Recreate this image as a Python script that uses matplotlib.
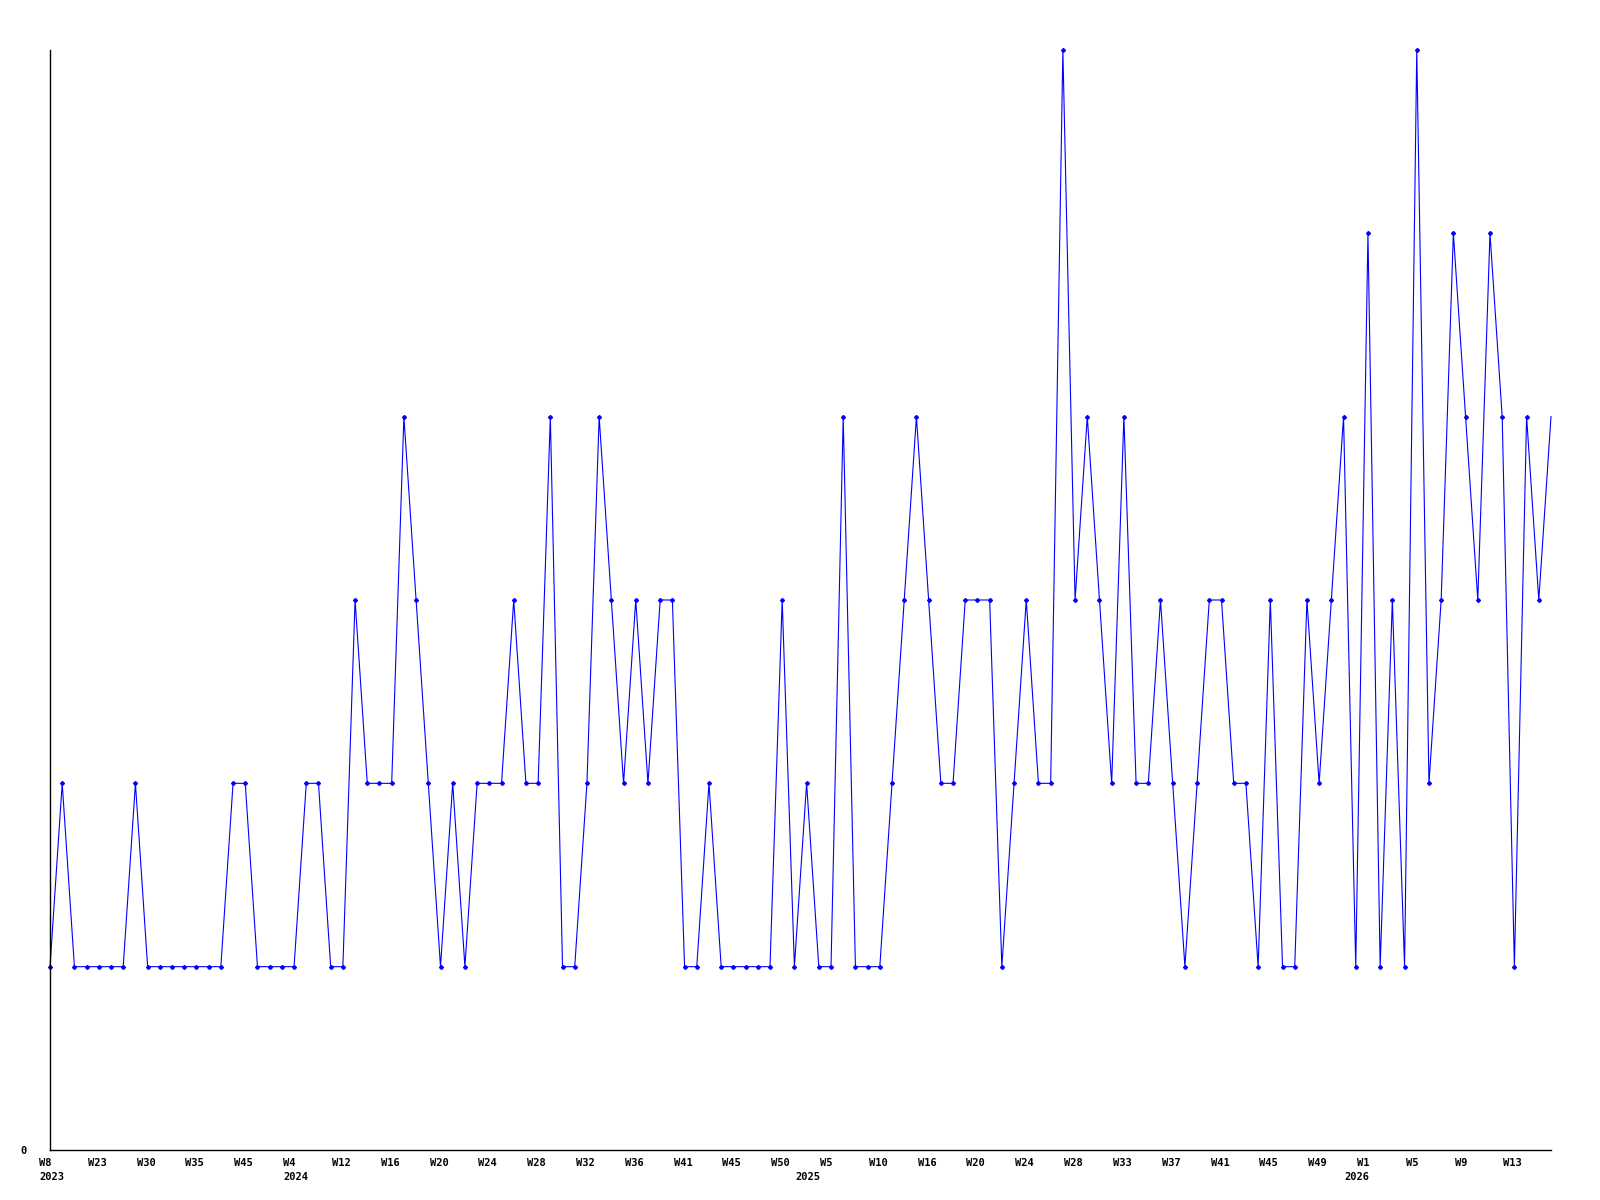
import numpy as np
import matplotlib
matplotlib.use("Agg")
import matplotlib.pyplot as plt
import matplotlib.transforms as mtrans

# weekly counts
counts = [1, 2, 1, 1, 1, 1, 1, 2, 1, 1, 1, 1, 1, 1, 1, 2, 2, 1, 1, 1,
          1, 2, 2, 1, 1, 3, 2, 2, 2, 4, 3, 2, 1, 2, 1, 2, 2, 2, 3, 2,
          2, 4, 1, 1, 2, 4, 3, 2, 3, 2, 3, 3, 1, 1, 2, 1, 1, 1, 1, 1,
          3, 1, 2, 1, 1, 4, 1, 1, 1, 2, 3, 4, 3, 2, 2, 3, 3, 3, 1, 2,
          3, 2, 2, 6, 3, 4, 3, 2, 4, 2, 2, 3, 2, 1, 2, 3, 3, 2, 2, 1,
          3, 1, 1, 3, 2, 3, 4, 1, 5, 1, 3, 1, 6, 2, 3, 5, 4, 3, 5, 4,
          1, 4, 3, 4]

week_labels = ["W8", "W23", "W30", "W35", "W45", "W4", "W12", "W16", "W20", "W24",
               "W28", "W32", "W36", "W41", "W45", "W50", "W5", "W10", "W16", "W20",
               "W24", "W28", "W33", "W37", "W41", "W45", "W49", "W1", "W5", "W9", "W13"]
week_pos = list(range(0, 124, 4))

year_labels = ["2023", "2024", "2025", "2026"]
year_pos = [0, 20, 62, 107]

x = np.arange(len(counts))

fig = plt.figure(figsize=(16, 12), dpi=100)
ax = fig.add_axes([50/1600, 50/1200, 1501/1600, 1100/1200])

# last point has no marker in the original (it sits on the right edge)
ax.plot(x, counts, color="#0000ff", lw=0.8, marker="D", ms=2.0,
        mec="#0000ff", mfc="#0000ff", markevery=list(range(len(counts) - 1)),
        clip_on=False)

ax.set_xlim(0, len(counts) - 1)
ax.set_ylim(0, 6)
for s in ["top", "right"]:
    ax.spines[s].set_visible(False)
for s in ["left", "bottom"]:
    ax.spines[s].set_linewidth(1.0)
    ax.spines[s].set_color("black")
    ax.spines[s].set_zorder(3)

font = dict(family="DejaVu Sans Mono", weight="bold", size=7.5)

ax.set_yticks([0])
ax.set_yticklabels(["0"], **font)
ax.tick_params(axis="y", length=0, pad=17)

ax.set_xticks([])
shift = mtrans.ScaledTranslation(-11/100, 0, fig.dpi_scale_trans)
base = mtrans.blended_transform_factory(ax.transData, ax.transAxes)
for p, lab in zip(week_pos, week_labels):
    ax.text(p, 0, lab, transform=base + shift + mtrans.ScaledTranslation(0, -8/100, fig.dpi_scale_trans),
            ha="left", va="top", **font)
for p, lab in zip(year_pos, year_labels):
    ax.text(p, 0, lab, transform=base + shift + mtrans.ScaledTranslation(0, -22/100, fig.dpi_scale_trans),
            ha="left", va="top", **font)

fig.savefig("out.png", dpi=100, facecolor="white")
